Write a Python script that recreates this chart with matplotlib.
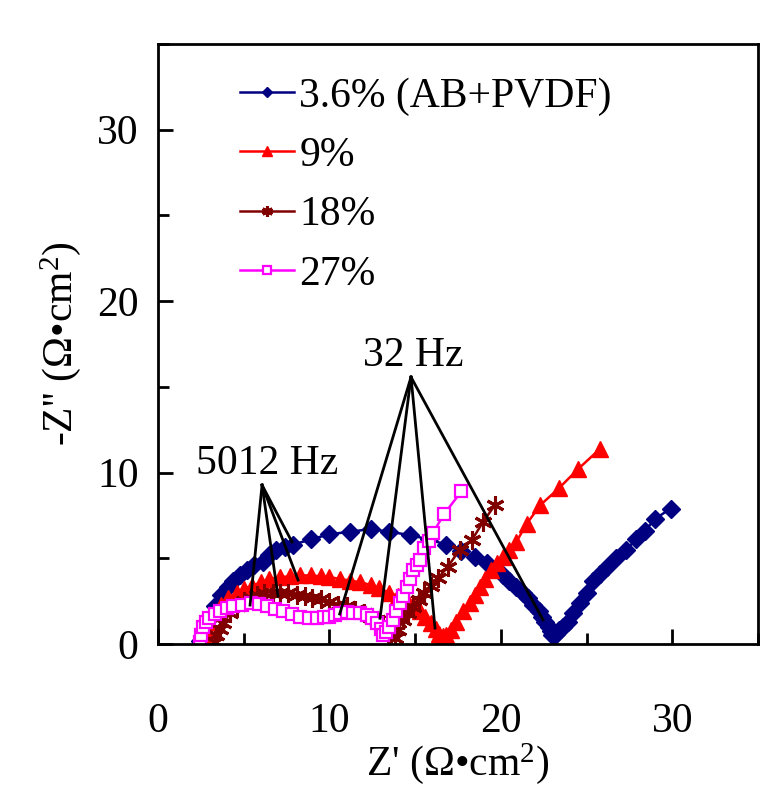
import numpy as np
import matplotlib
matplotlib.use("Agg")
import matplotlib.pyplot as plt
from matplotlib.ticker import MultipleLocator

plt.rcParams['font.family'] = ['Liberation Serif', 'DejaVu Serif']
plt.rcParams['mathtext.fontset'] = 'custom'
plt.rcParams['mathtext.rm'] = 'Liberation Serif'
plt.rcParams['mathtext.it'] = 'Liberation Serif'

# Nyquist data, Z' and -Z'' in ohm*cm2
blue_x = [2.45, 2.6, 2.9, 3.3, 3.7, 4.1, 4.4, 4.8, 5.2, 5.6, 6.1, 6.5, 6.9, 7.4, 7.9, 8.9,
          10.0, 11.2, 12.4, 13.5, 14.7, 15.8, 16.8, 17.7, 18.5, 19.2, 19.7, 20.1, 20.5,
          20.9, 21.3, 21.6, 21.9, 22.2, 22.4, 22.6, 22.8, 22.9, 23.0, 23.1, 23.2, 23.4,
          23.6, 23.9, 24.2, 24.6, 25.0, 25.4, 25.8, 26.2, 26.7, 27.3, 27.9, 28.4, 29.0, 29.9]
blue_y = [0.2, 0.8, 1.4, 2.2, 2.85, 3.3, 3.7, 4.0, 4.3, 4.6, 4.8, 5.2, 5.5, 5.65, 5.8, 6.1,
          6.4, 6.55, 6.7, 6.55, 6.35, 6.1, 5.8, 5.4, 5.05, 4.75, 4.4, 4.0, 3.7,
          3.3, 3.0, 2.7, 2.3, 1.9, 1.6, 1.3, 1.0, 0.75, 0.5, 0.45, 0.6, 0.8,
          1.0, 1.3, 1.8, 2.4, 3.0, 3.7, 4.1, 4.5, 5.0, 5.5, 6.1, 6.6, 7.3, 7.9]

red_x = [2.5, 2.6, 2.8, 3.0, 3.3, 3.7, 4.1, 4.6, 5.0, 5.5, 6.0, 6.5, 7.1, 7.7, 8.3, 8.9,
         9.5, 10.0, 10.6, 11.2, 11.8, 12.4, 12.9, 13.5, 14.0, 14.5, 14.9, 15.3, 15.6,
         15.9, 16.2, 16.4, 16.6, 16.8, 17.1, 17.4, 17.8, 18.2, 18.5, 18.8, 19.1, 19.4,
         19.8, 20.1, 20.5, 20.9, 21.5, 22.3, 23.4, 24.5, 25.8]
red_y = [0.2, 0.5, 0.9, 1.3, 1.8, 2.3, 2.7, 3.0, 3.2, 3.4, 3.6, 3.8, 3.9, 3.95, 4.0, 4.0,
         3.95, 3.9, 3.8, 3.7, 3.6, 3.45, 3.25, 3.0, 2.8, 2.55, 2.25, 1.9, 1.55,
         1.2, 0.85, 0.6, 0.45, 0.5, 0.8, 1.3, 1.9, 2.4, 2.85, 3.3, 3.8, 4.3,
         4.7, 5.1, 5.5, 5.95, 7.0, 8.1, 9.1, 10.2, 11.4]

brown_x = [3.3, 3.4, 3.6, 3.8, 4.2, 4.6, 5.0, 5.4, 5.8, 6.2, 6.7, 7.1, 7.6, 8.1, 8.6, 9.0,
           9.5, 10.0, 10.5, 11.0, 11.5, 12.0, 12.4, 12.8, 13.1, 13.4, 13.6, 13.8, 14.0,
           14.3, 14.6, 14.9, 15.2, 15.5, 15.9, 16.35, 16.9, 17.6, 18.3, 18.95, 19.65]
brown_y = [0.1, 0.5, 0.9, 1.2, 1.8, 2.2, 2.5, 2.7, 2.85, 3.0, 3.0, 3.0, 2.95, 2.85, 2.8, 2.7,
           2.6, 2.45, 2.3, 2.2, 2.0, 1.8, 1.6, 1.4, 1.15, 0.9, 0.6, 0.35, 0.8,
           1.4, 1.8, 2.15, 2.55, 2.95, 3.4, 3.85, 4.5, 5.5, 6.05, 7.1, 8.1]

pink_x = [2.45, 2.5, 2.6, 2.8, 3.0, 3.3, 3.6, 4.0, 4.4, 4.9, 5.4, 5.9, 6.35, 6.8, 7.3, 7.8,
          8.3, 8.8, 9.3, 9.7, 10.0, 10.3, 10.6, 11.0, 11.4, 11.8, 12.2, 12.5, 12.8, 13.0,
          13.1, 13.3, 13.5, 13.7, 13.9, 14.1, 14.3, 14.5, 14.7, 14.9, 15.1, 15.3, 15.5,
          15.8, 16.05, 16.7, 17.7]
pink_y = [0.1, 0.5, 1.0, 1.3, 1.5, 1.75, 1.9, 2.1, 2.2, 2.3, 2.4, 2.35, 2.2, 2.05, 1.9, 1.75,
          1.6, 1.5, 1.5, 1.55, 1.6, 1.7, 1.8, 1.85, 1.8, 1.8, 1.7, 1.5, 1.2, 0.9,
          0.5, 0.7, 1.0, 1.4, 1.9, 2.4, 2.8, 3.3, 3.8, 4.3, 4.6, 4.9, 5.6,
          6.0, 6.5, 7.6, 8.9]

labels = ['3.6% (AB+PVDF)', '9%', '18%', '27%']

# frequency markers: label position and the points they point at
hz5012_apex = (6.07, 9.27)
hz5012_pts = [(7.82, 5.95), (8.17, 3.73), (7.0, 2.8), (5.37, 2.27)]
hz32_apex = (14.76, 15.57)
hz32_pts = [(10.6, 1.75), (12.95, 1.5), (16.16, 0.93), (22.46, 1.4)]

fs = 30

fig = plt.figure(figsize=(7.8, 7.92), dpi=100)
ax = fig.add_axes([158 / 780, 148 / 792, 600 / 780, 600 / 792])

ax.plot(blue_x, blue_y, color='#000080', marker='D', ms=9, lw=1.8, label=labels[0])
ax.plot(red_x, red_y, color='#ff0000', marker='^', ms=11, lw=1.8, label=labels[1])
ax.plot(brown_x, brown_y, color='#800000', marker=(6, 2, 0), ms=13, mew=2.2, lw=1.8, label=labels[2])
ax.plot(pink_x, pink_y, color='#ff00ff', marker='s', ms=9, mfc='white', mew=1.6, lw=1.8, label=labels[3])

for p in hz5012_pts:
    ax.plot([hz5012_apex[0], p[0]], [hz5012_apex[1], p[1]], color='black', lw=2)
for p in hz32_pts:
    ax.plot([hz32_apex[0], p[0]], [hz32_apex[1], p[1]], color='black', lw=2)
ax.text(6.37, 10.5, '5012 Hz', fontsize=fs, ha='center', va='center')
ax.text(14.9, 16.8, '32 Hz', fontsize=fs, ha='center', va='center')

ax.set_xlim(0, 35)
ax.set_ylim(0, 35)
ax.xaxis.set_major_locator(MultipleLocator(10))
ax.xaxis.set_minor_locator(MultipleLocator(5))
ax.yaxis.set_major_locator(MultipleLocator(10))
ax.yaxis.set_minor_locator(MultipleLocator(5))
ax.tick_params(which='both', direction='in', width=2, top=False, right=False)
ax.tick_params(which='major', length=11)
ax.tick_params(which='minor', length=8)
ax.tick_params(axis='x', which='both', pad=42, labelsize=fs)
ax.tick_params(axis='y', which='both', pad=14, labelsize=fs)
for s in ax.spines.values():
    s.set_linewidth(2)

ax.set_xlabel("Z' (\u03a9\u2022cm$^2$)", fontsize=fs, labelpad=0)
ax.set_ylabel("-Z'' (\u03a9\u2022cm$^2$)", fontsize=fs, labelpad=10)

ax.legend(loc='upper left', bbox_to_anchor=(0.137, 0.945), frameon=False, fontsize=fs,
          handlelength=1.3, handletextpad=0.12, labelspacing=0.5, borderpad=0,
          borderaxespad=0, markerscale=0.6)

fig.savefig('out.png', dpi=100)
